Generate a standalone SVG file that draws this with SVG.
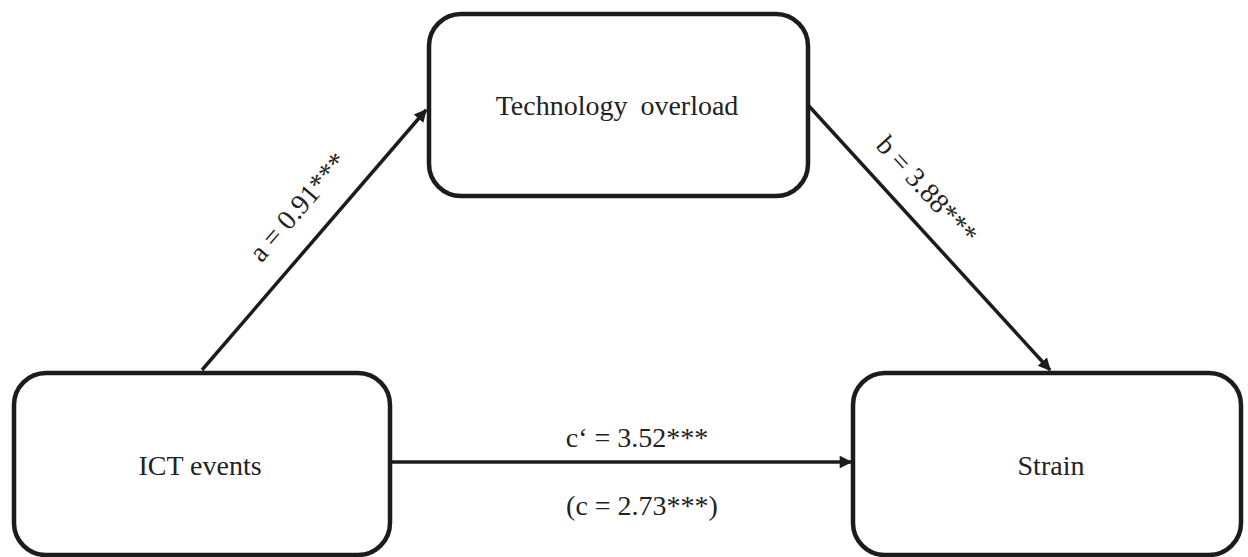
<svg xmlns="http://www.w3.org/2000/svg" width="1248" height="557" viewBox="0 0 1248 557">
<style>
.box{fill:#fff;stroke:#1c1c1c;stroke-width:4.5}
.lbl{font-family:"Liberation Serif","Times New Roman",serif;font-size:28px;fill:#222;text-anchor:middle}
.edge{stroke:#1c1c1c;stroke-width:3.5;fill:none;marker-end:url(#ah)}
</style>
<defs>
<marker id="ah" viewBox="0 0 10 10" refX="9" refY="5" markerWidth="4.6" markerHeight="3.6" orient="auto" markerUnits="strokeWidth">
<path d="M0,0 L10,5 L0,10 z" fill="#1c1c1c"/>
</marker>
</defs>
<rect width="1248" height="557" fill="#fff"/>
<g id="connectors">
<line class="edge" x1="202" y1="370" x2="426" y2="110"/>
<line class="edge" x1="808" y1="105" x2="1050" y2="370"/>
<line class="edge" x1="392" y1="462" x2="851" y2="462"/>
<text class="lbl" transform="translate(305,213) rotate(-49.2)">a = 0.91***</text>
<text class="lbl" transform="translate(920,196) rotate(47.7)">b = 3.88***</text>
<text class="lbl" x="637" y="447">c‘ = 3.52***</text>
<text class="lbl" x="642" y="515">(c = 2.73***)</text>
</g>
<g id="node-tech">
<rect class="box" x="429" y="14" width="379" height="182" rx="32"/>
<text class="lbl" x="617" y="115" word-spacing="6">Technology overload</text>
</g>
<g id="node-ict">
<rect class="box" x="14" y="373" width="376" height="182" rx="32"/>
<text class="lbl" x="200" y="475">ICT events</text>
</g>
<g id="node-strain">
<rect class="box" x="853" y="373" width="388" height="182" rx="32"/>
<text class="lbl" x="1051" y="475">Strain</text>
</g>
</svg>
